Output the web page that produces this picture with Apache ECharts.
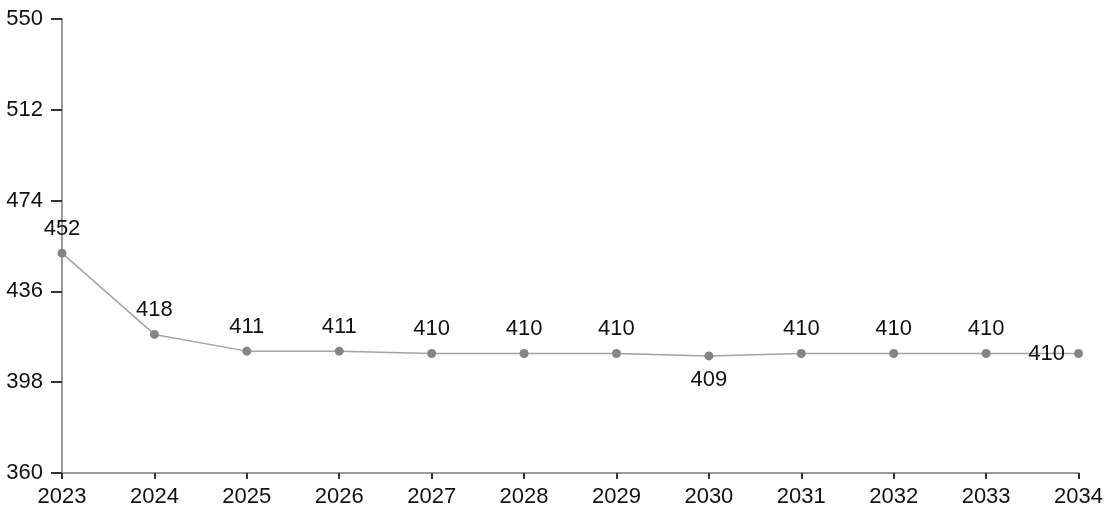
<!DOCTYPE html>
<html>
<head>
<meta charset="utf-8">
<script src="https://cdn.jsdelivr.net/npm/echarts@6/dist/echarts.min.js"></script>
<style>
  html, body { margin: 0; padding: 0; background: #fff; }
  #chart { width: 1106px; height: 513px; }
</style>
</head>
<body>
<div id="chart"></div>
<script>
// data
var years = ["2023", "2024", "2025", "2026", "2027", "2028", "2029", "2030", "2031", "2032", "2033", "2034"];
var values = [452, 418, 411, 411, 410, 410, 410, 409, 410, 410, 410, 410];
// where each value label sits
var labelPos = ["top", "top", "top", "top", "top", "top", "top", "bottom", "top", "top", "top", "left"];

var chart = echarts.init(document.getElementById("chart"));

var seriesData = values.map(function (v, i) {
  return { value: v, label: { position: labelPos[i] } };
});

var fontFamily = "Liberation Sans, Arial, sans-serif";

var option = {
  backgroundColor: "#fff",
  animation: false,
  grid: { left: 62, right: 25, top: 19, bottom: 40 },
  xAxis: {
    type: "category",
    data: years,
    boundaryGap: false,
    axisLine: { lineStyle: { color: "#9a9a9a", width: 2 } },
    axisTick: { show: true, length: 6, lineStyle: { color: "#333", width: 2 } },
    axisLabel: { color: "#111", fontSize: 22, fontFamily: fontFamily, margin: 13 },
    splitLine: { show: false }
  },
  yAxis: {
    type: "value",
    min: 360,
    max: 550,
    interval: 38,
    axisLine: { show: true, lineStyle: { color: "#9a9a9a", width: 2 } },
    axisTick: { show: true, length: 11, lineStyle: { color: "#333", width: 2 } },
    axisLabel: { color: "#111", fontSize: 22, fontFamily: fontFamily, margin: 19 },
    splitLine: { show: false }
  },
  series: [{
    type: "line",
    data: seriesData,
    symbol: "circle",
    symbolSize: 9,
    itemStyle: { color: "#858585" },
    lineStyle: { color: "#a3a3a3", width: 1.5 },
    label: {
      show: true,
      color: "#111",
      fontSize: 22,
      fontFamily: fontFamily,
      distance: 9
    }
  }]
};

chart.setOption(option);
</script>
</body>
</html>
